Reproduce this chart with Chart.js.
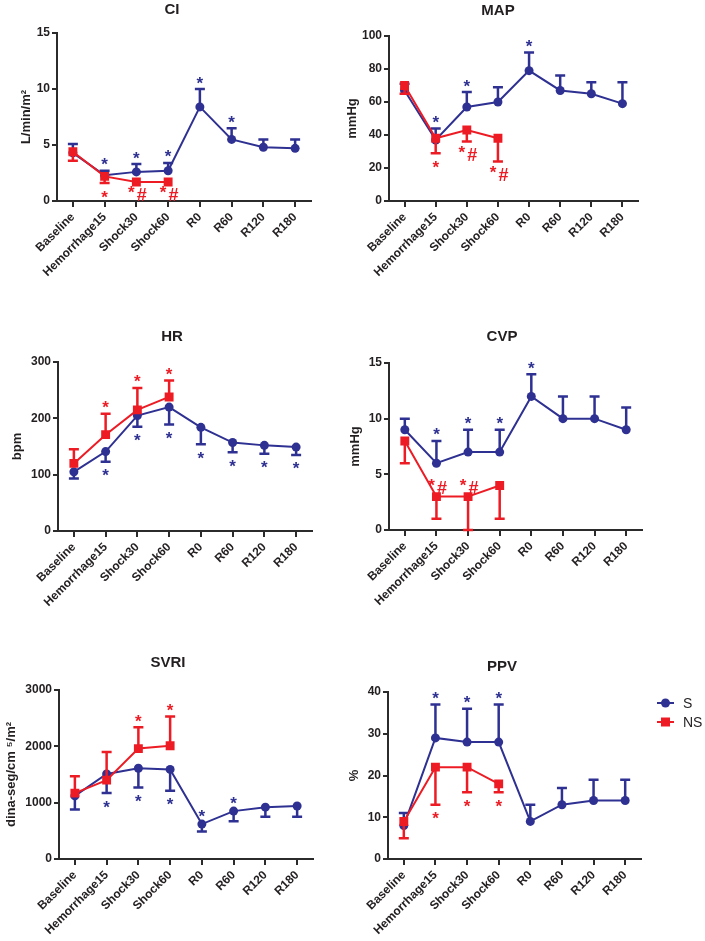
<!DOCTYPE html>
<html>
<head>
<meta charset="utf-8">
<script src="https://cdn.jsdelivr.net/npm/chart.js@4.4.1/dist/chart.umd.min.js"></script>
<style>
  body { margin: 0; background: #fff; width: 705px; height: 941px; position: relative; overflow: hidden; }
  .panel { position: absolute; }
</style>
</head>
<body>
<div class="panel" id="box-ci"><canvas id="ci"></canvas></div>
<div class="panel" id="box-map"><canvas id="map"></canvas></div>
<div class="panel" id="box-hr"><canvas id="hr"></canvas></div>
<div class="panel" id="box-cvp"><canvas id="cvp"></canvas></div>
<div class="panel" id="box-svri"><canvas id="svri"></canvas></div>
<div class="panel" id="box-ppv"><canvas id="ppv"></canvas></div>
<script>
// time points (x categories)
const timepoints = ['Baseline', 'Hemorrhage15', 'Shock30', 'Shock60', 'R0', 'R60', 'R120', 'R180'];

// CI
const ciS = [4.3, 2.3, 2.6, 2.7, 8.4, 5.5, 4.8, 4.7];
const ciSSd = [0.8, 0.4, 0.7, 0.7, 1.6, 1.0, 0.7, 0.8];
const ciNS = [4.4, 2.2, 1.7, 1.7];
const ciNSSd = [0.8, 0.6, 0, 0];
const ciSSig = ['', '*', '*', '*', '*', '*', '', ''];
const ciNSSig = ['', '*', '*#', '*#'];

// MAP
const mapS = [67, 37, 57, 60, 79, 67, 65, 59];
const mapSSd = [4, 7, 9, 9, 11, 9, 7, 13];
const mapNS = [70, 38, 43, 38];
const mapNSSd = [5, 9, 7, 14];
const mapSSig = ['', '*', '*', '', '*', '', '', ''];
const mapNSSig = ['', '*', '*#', '*#'];

// HR
const hrS = [105, 141, 205, 220, 184, 157, 152, 149];
const hrSSd = [12, 18, 20, 31, 30, 17, 15, 14];
const hrNS = [120, 171, 215, 238];
const hrNSSd = [25, 37, 39, 29];
const hrSSig = ['', '*', '*', '*', '*', '*', '*', '*'];
const hrNSSig = ['', '*', '*', '*'];

// CVP
const cvpS = [9, 6, 7, 7, 12, 10, 10, 9];
const cvpSSd = [1, 2, 2, 2, 2, 2, 2, 2];
const cvpNS = [8, 3, 3, 4];
const cvpNSSd = [2, 2, 3, 3];
const cvpSSig = ['', '*', '*', '*', '*', '', '', ''];
const cvpNSSig = ['', '*#', '*#', ''];

// SVRI
const svriS = [1120, 1510, 1610, 1590, 620, 850, 920, 940];
const svriSSd = [240, 340, 340, 380, 130, 180, 170, 190];
const svriNS = [1170, 1400, 1960, 2010];
const svriNSSd = [300, 500, 380, 520];
const svriSSig = ['', '*', '*', '*', '*', '*', '', ''];
const svriNSSig = ['', '', '*', '*'];

// PPV
const ppvS = [8, 29, 28, 28, 9, 13, 14, 14];
const ppvSSd = [3, 8, 8, 9, 4, 4, 5, 5];
const ppvNS = [9, 22, 22, 18];
const ppvNSSd = [4, 9, 6, 2];
const ppvSSig = ['', '*', '*', '*', '', '', '', ''];
const ppvNSSig = ['', '*', '*', '*'];

const BLUE = '#2e3192';
const RED = '#ed1c24';
const AXIS = '#2b2b2b';
const FONT = '"Liberation Sans", Arial, Helvetica, sans-serif';

// layout of each panel (page pixels)
const panels = [
  { id: 'ci', box: [0, 0, 340, 300], area: [57, 33, 311, 201], title: 'CI', titleAt: [172, 10],
    yTitle: 'L/min/m\u00b2', yTitlePad: 19, max: 15, step: 5,
    s: ciS, sSd: ciSSd, sSig: ciSSig, ns: ciNS, nsSd: ciNSSd, nsSig: ciNSSig,
    sDir: 1, nsDir: -1, sFlip: [], nsFlip: [] },
  { id: 'map', box: [340, 0, 365, 300], area: [389, 36, 638, 201], title: 'MAP', titleAt: [498, 11],
    yTitle: 'mmHg', yTitlePad: 5, max: 100, step: 20,
    s: mapS, sSd: mapSSd, sSig: mapSSig, ns: mapNS, nsSd: mapNSSd, nsSig: mapNSSig,
    sDir: 1, nsDir: -1, sFlip: [], nsFlip: [] },
  { id: 'hr', box: [0, 310, 340, 320], area: [58, 362, 312, 531], title: 'HR', titleAt: [172, 337],
    yTitle: 'bpm', yTitlePad: 10, max: 300, step: 100,
    s: hrS, sSd: hrSSd, sSig: hrSSig, ns: hrNS, nsSd: hrNSSd, nsSig: hrNSSig,
    sDir: -1, nsDir: 1, sFlip: [], nsFlip: [] },
  { id: 'cvp', box: [340, 310, 365, 320], area: [389, 363, 642, 530], title: 'CVP', titleAt: [502, 337],
    yTitle: 'mmHg', yTitlePad: 8, max: 15, step: 5,
    s: cvpS, sSd: cvpSSd, sSig: cvpSSig, ns: cvpNS, nsSd: cvpNSSd, nsSig: cvpNSSig,
    sDir: 1, nsDir: -1, sFlip: [], nsFlip: [1, 2] },
  { id: 'svri', box: [0, 640, 340, 301], area: [59, 690, 313, 859], title: 'SVRI', titleAt: [168, 663],
    yTitle: 'dina-seg/cm \u2075/m\u00b2', yTitlePad: 4, max: 3000, step: 1000,
    s: svriS, sSd: svriSSd, sSig: svriSSig, ns: svriNS, nsSd: svriNSSd, nsSig: svriNSSig,
    sDir: -1, nsDir: 1, sFlip: [4, 5], nsFlip: [] },
  { id: 'ppv', box: [340, 640, 365, 301], area: [388, 692, 641, 859], title: 'PPV', titleAt: [502, 667],
    yTitle: '%', yTitlePad: 7, max: 40, step: 10,
    s: ppvS, sSd: ppvSSd, sSig: ppvSSig, ns: ppvNS, nsSd: ppvNSSd, nsSig: ppvNSSig,
    sDir: 1, nsDir: -1, sFlip: [], nsFlip: [], legend: true }
];

function drawMark(ctx, text, x, y) {
  ctx.font = 'bold 17px ' + FONT;
  ctx.textAlign = 'center';
  ctx.textBaseline = 'alphabetic';
  if (text === '*') {
    ctx.fillText('*', x, y + 9.5);
  } else {
    ctx.fillText('*', x - 5, y + 6.5);
    ctx.font = 'bold 18px ' + FONT;
    ctx.fillText('#', x + 5.5, y + 9.5);
  }
}

// error bars, significance marks, panel title and legend
const extras = {
  id: 'extras',
  beforeDatasetDraw(chart, args) {
    const ds = chart.data.datasets[args.index];
    const ctx = chart.ctx, xs = chart.scales.x, ys = chart.scales.y;
    ctx.save();
    ctx.strokeStyle = ds.borderColor;
    ctx.lineWidth = 2.5;
    ds.data.forEach((v, i) => {
      const e = ds.sd[i];
      if (!e) return;
      const px = xs.getPixelForValue(i);
      const py = ys.getPixelForValue(v);
      const pe = ys.getPixelForValue(v + ds.dir * e);
      ctx.beginPath();
      ctx.moveTo(px, py);
      ctx.lineTo(px, pe);
      ctx.moveTo(px - 5, pe);
      ctx.lineTo(px + 5, pe);
      ctx.stroke();
    });
    ctx.restore();
  },
  afterDatasetsDraw(chart) {
    const ctx = chart.ctx, xs = chart.scales.x, ys = chart.scales.y;
    ctx.save();
    chart.data.datasets.forEach(ds => {
      ctx.fillStyle = ds.borderColor;
      ds.sig.forEach((m, i) => {
        if (!m) return;
        const px = xs.getPixelForValue(i);
        const py = ys.getPixelForValue(ds.data[i]);
        let ay;
        if (ds.flip.includes(i)) {
          ay = py + ds.dir * 12;
        } else {
          ay = ys.getPixelForValue(ds.data[i] + ds.dir * ds.sd[i]) - ds.dir * 10;
        }
        drawMark(ctx, m, px, ay);
      });
    });
    ctx.restore();
  },
  afterDraw(chart) {
    const p = chart.options.plugins.extras.panel;
    const ctx = chart.ctx;
    const ox = p.box[0], oy = p.box[1];
    ctx.save();
    ctx.fillStyle = '#231f20';
    ctx.font = 'bold 15px ' + FONT;
    ctx.textAlign = 'center';
    ctx.textBaseline = 'middle';
    ctx.fillText(p.title, p.titleAt[0] - ox, p.titleAt[1] - oy);
    if (p.legend) {
      const items = [['S', BLUE, 'circle', 703], ['NS', RED, 'rect', 722]];
      items.forEach(([name, col, shape, y]) => {
        const yy = y - oy;
        ctx.strokeStyle = col;
        ctx.fillStyle = col;
        ctx.lineWidth = 2;
        ctx.beginPath();
        ctx.moveTo(657 - ox, yy);
        ctx.lineTo(674 - ox, yy);
        ctx.stroke();
        ctx.beginPath();
        if (shape === 'circle') ctx.arc(665.5 - ox, yy, 4.5, 0, Math.PI * 2);
        else ctx.rect(661 - ox, yy - 4.5, 9, 9);
        ctx.fill();
        ctx.fillStyle = '#231f20';
        ctx.font = '14px ' + FONT;
        ctx.textAlign = 'left';
        ctx.fillText(name, 683 - ox, yy + 1);
      });
    }
    ctx.restore();
  }
};

function makePanel(p) {
  const wrap = document.getElementById('box-' + p.id);
  wrap.style.left = p.box[0] + 'px';
  wrap.style.top = p.box[1] + 'px';
  wrap.style.width = p.box[2] + 'px';
  wrap.style.height = p.box[3] + 'px';
  const [aLeft, aTop, aRight, aBottom] = p.area;
  const tickFont = { family: FONT, size: 12, weight: 'bold' };

  new Chart(document.getElementById(p.id), {
    type: 'line',
    data: {
      labels: timepoints,
      datasets: [
        { label: 'NS', data: p.ns, sd: p.nsSd, sig: p.nsSig, dir: p.nsDir, flip: p.nsFlip,
          borderColor: RED, backgroundColor: RED, borderWidth: 2,
          pointStyle: 'rect', pointRadius: 6.3, pointBorderWidth: 0, tension: 0 },
        { label: 'S', data: p.s, sd: p.sSd, sig: p.sSig, dir: p.sDir, flip: p.sFlip,
          borderColor: BLUE, backgroundColor: BLUE, borderWidth: 2,
          pointStyle: 'circle', pointRadius: 4.5, pointBorderWidth: 0, tension: 0 }
      ]
    },
    options: {
      responsive: true,
      maintainAspectRatio: false,
      animation: false,
      events: [],
      layout: {
        padding: { top: aTop - p.box[1], right: p.box[0] + p.box[2] - aRight, left: 0, bottom: 0 }
      },
      plugins: {
        legend: { display: false },
        tooltip: { enabled: false },
        extras: { panel: p }
      },
      scales: {
        x: {
          type: 'category',
          offset: true,
          grid: { drawOnChartArea: false, drawTicks: true, tickLength: 6, lineWidth: 2, color: AXIS },
          border: { display: true, color: AXIS, width: 2 },
          ticks: { autoSkip: false, minRotation: 45, maxRotation: 45, padding: 3, color: '#231f20', font: tickFont },
          afterFit: s => { s.height = p.box[1] + p.box[3] - aBottom; }
        },
        y: {
          min: 0,
          max: p.max,
          grid: { drawOnChartArea: false, drawTicks: true, tickLength: 5, lineWidth: 2, color: AXIS },
          border: { display: true, color: AXIS, width: 2 },
          ticks: { stepSize: p.step, padding: 2, color: '#231f20', font: tickFont, callback: v => String(v) },
          title: { display: true, text: p.yTitle, color: '#231f20', padding: { top: p.yTitlePad, bottom: 0 },
                   font: { family: FONT, size: 13, weight: 'bold' } },
          afterFit: s => { s.width = aLeft - p.box[0]; }
        }
      }
    },
    plugins: [extras]
  });
}

panels.forEach(makePanel);
</script>
</body>
</html>
